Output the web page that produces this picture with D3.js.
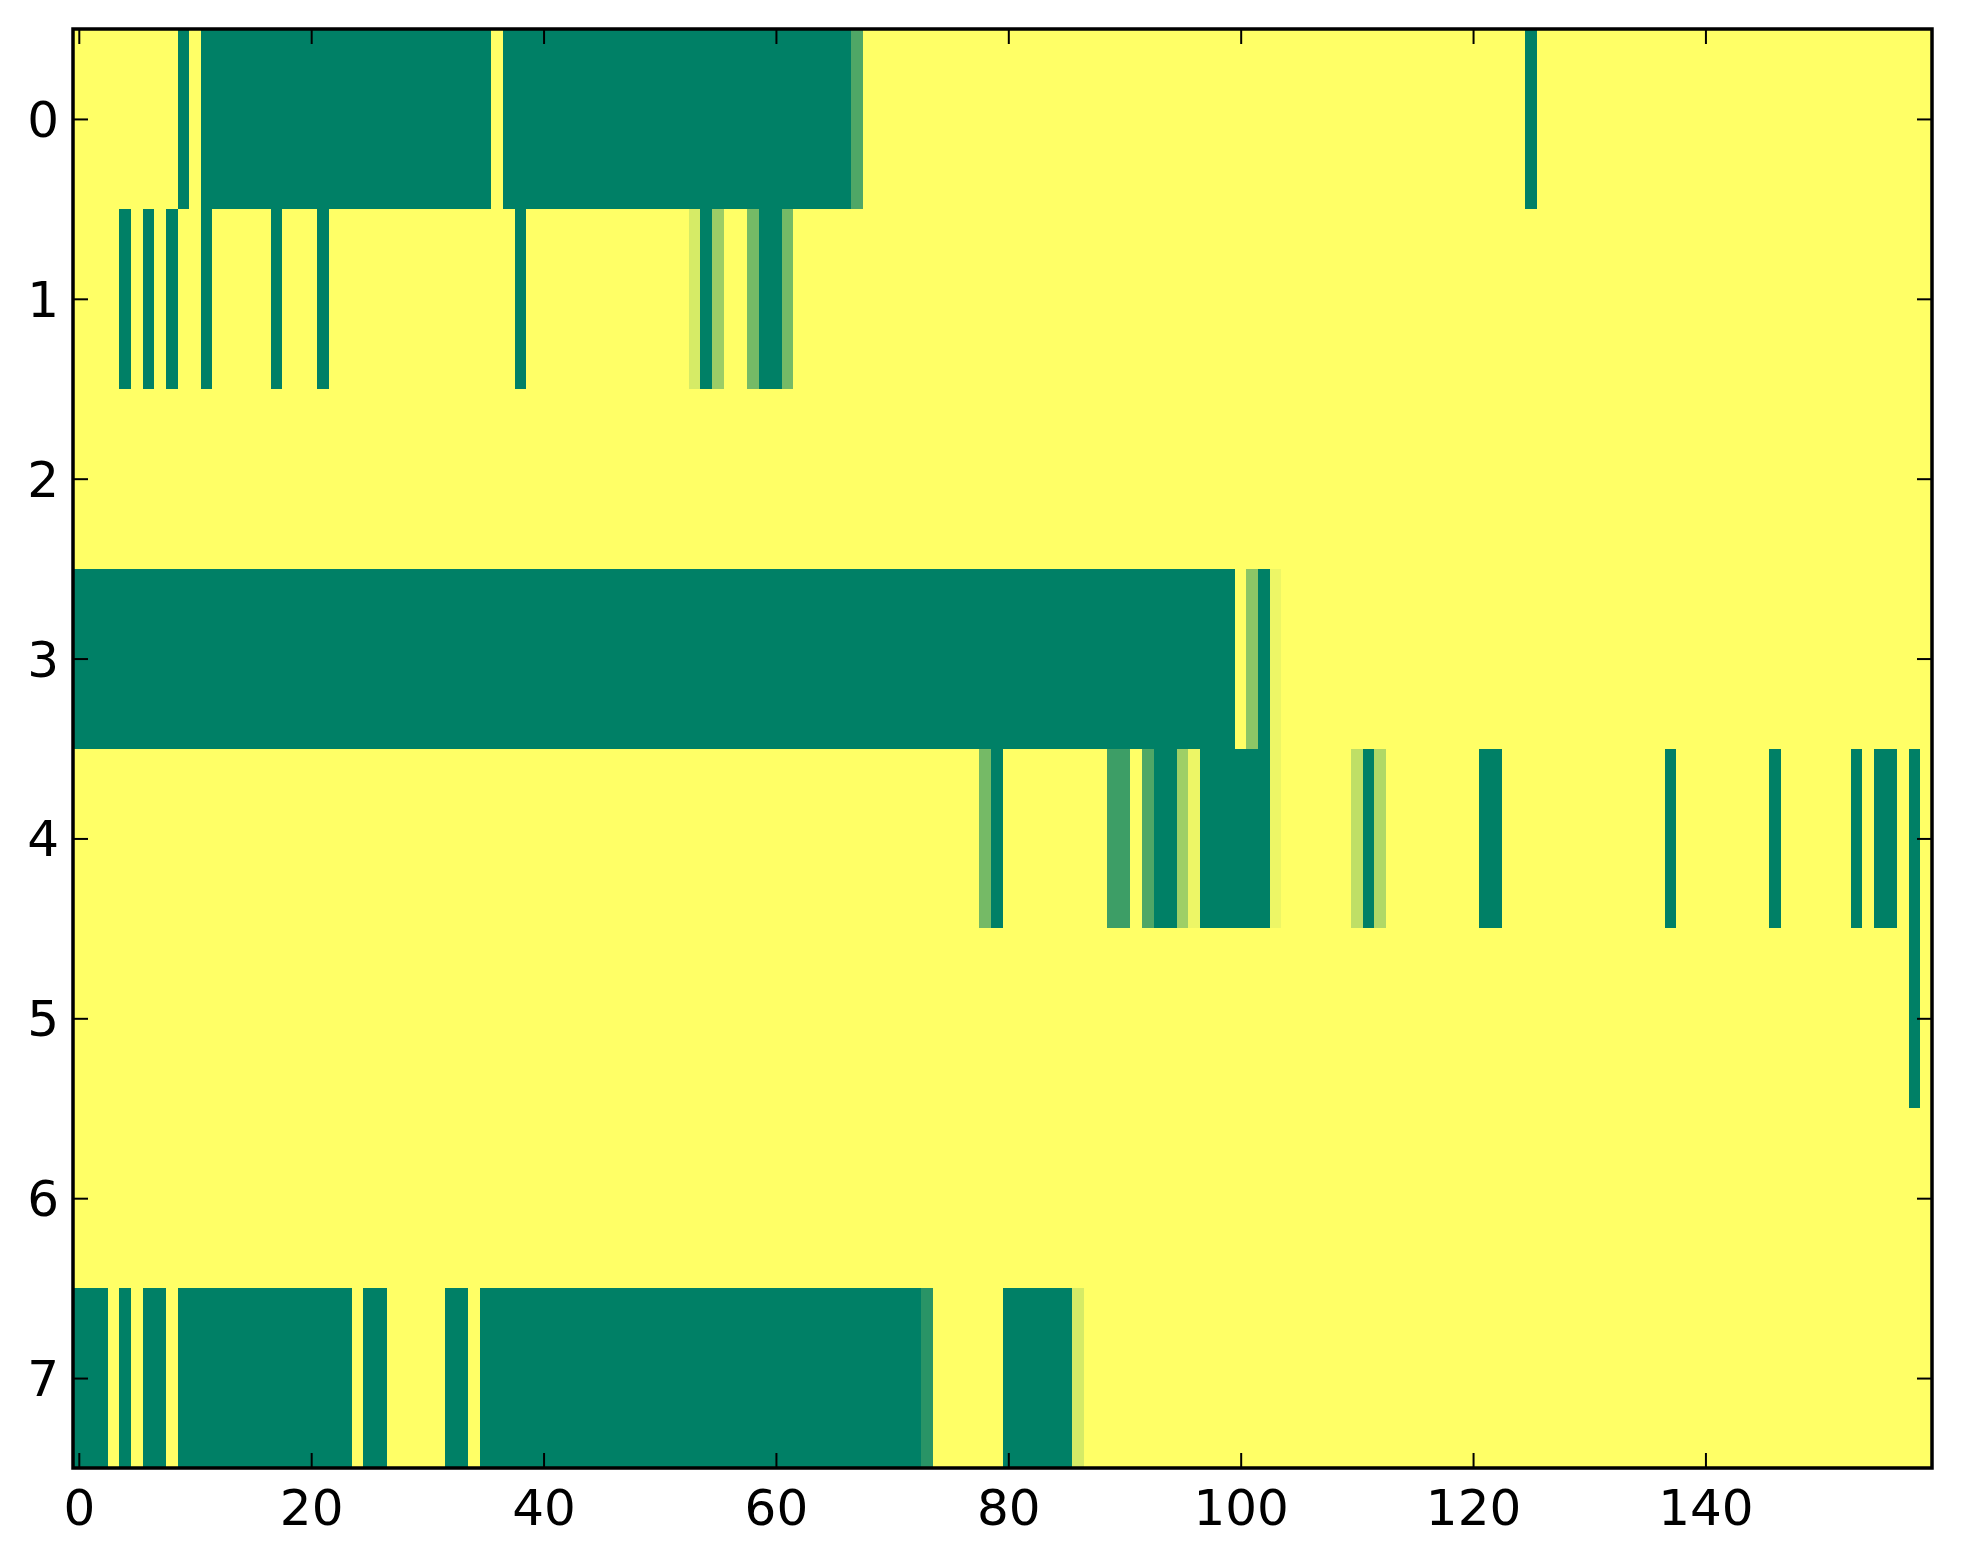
<!DOCTYPE html>
<html>
<head>
<meta charset="utf-8">
<script src="https://cdn.jsdelivr.net/npm/d3@7"></script>
<style>
  html, body { margin: 0; padding: 0; background: #ffffff; }
  svg { display: block; }
</style>
</head>
<body>
<svg id="chart" width="1963" height="1564"></svg>
<script>
// ---- data (0 = yellow, 1 = green) ----
const rowLabels = [0, 1, 2, 3, 4, 5, 6, 7];
const xTickValues = [0, 20, 40, 60, 80, 100, 120, 140];
const yTickValues = [0, 1, 2, 3, 4, 5, 6, 7];

const row0 = [
  0,0,0,0,0,0,0,0,0,1, 0,1,1,1,1,1,1,1,1,1, 1,1,1,1,1,1,1,1,1,1, 1,1,1,1,1,1,0,1,1,1,
  1,1,1,1,1,1,1,1,1,1, 1,1,1,1,1,1,1,1,1,1, 1,1,1,1,1,1,1,0.69,0,0, 0,0,0,0,0,0,0,0,0,0,
  0,0,0,0,0,0,0,0,0,0, 0,0,0,0,0,0,0,0,0,0, 0,0,0,0,0,0,0,0,0,0, 0,0,0,0,0,0,0,0,0,0,
  0,0,0,0,0,1,0,0,0,0, 0,0,0,0,0,0,0,0,0,0, 0,0,0,0,0,0,0,0,0,0, 0,0,0,0,0,0,0,0,0,0
];
const row1 = [
  0,0,0,0,1,0,1,0,1,0, 0,1,0,0,0,0,0,1,0,0, 0,1,0,0,0,0,0,0,0,0, 0,0,0,0,0,0,0,0,1,0,
  0,0,0,0,0,0,0,0,0,0, 0,0,0,0.16,1,0.39,0,0,0.54,1, 1,0.54,0,0,0,0,0,0,0,0, 0,0,0,0,0,0,0,0,0,0,
  0,0,0,0,0,0,0,0,0,0, 0,0,0,0,0,0,0,0,0,0, 0,0,0,0,0,0,0,0,0,0, 0,0,0,0,0,0,0,0,0,0,
  0,0,0,0,0,0,0,0,0,0, 0,0,0,0,0,0,0,0,0,0, 0,0,0,0,0,0,0,0,0,0, 0,0,0,0,0,0,0,0,0,0
];
const row2 = [
  0,0,0,0,0,0,0,0,0,0, 0,0,0,0,0,0,0,0,0,0, 0,0,0,0,0,0,0,0,0,0, 0,0,0,0,0,0,0,0,0,0,
  0,0,0,0,0,0,0,0,0,0, 0,0,0,0,0,0,0,0,0,0, 0,0,0,0,0,0,0,0,0,0, 0,0,0,0,0,0,0,0,0,0,
  0,0,0,0,0,0,0,0,0,0, 0,0,0,0,0,0,0,0,0,0, 0,0,0,0,0,0,0,0,0,0, 0,0,0,0,0,0,0,0,0,0,
  0,0,0,0,0,0,0,0,0,0, 0,0,0,0,0,0,0,0,0,0, 0,0,0,0,0,0,0,0,0,0, 0,0,0,0,0,0,0,0,0,0
];
const row3 = [
  1,1,1,1,1,1,1,1,1,1, 1,1,1,1,1,1,1,1,1,1, 1,1,1,1,1,1,1,1,1,1, 1,1,1,1,1,1,1,1,1,1,
  1,1,1,1,1,1,1,1,1,1, 1,1,1,1,1,1,1,1,1,1, 1,1,1,1,1,1,1,1,1,1, 1,1,1,1,1,1,1,1,1,1,
  1,1,1,1,1,1,1,1,1,1, 1,1,1,1,1,1,1,1,1,1, 0,0.45,1,0.07,0,0,0,0,0,0, 0,0,0,0,0,0,0,0,0,0,
  0,0,0,0,0,0,0,0,0,0, 0,0,0,0,0,0,0,0,0,0, 0,0,0,0,0,0,0,0,0,0, 0,0,0,0,0,0,0,0,0,0
];
const row4 = [
  0,0,0,0,0,0,0,0,0,0, 0,0,0,0,0,0,0,0,0,0, 0,0,0,0,0,0,0,0,0,0, 0,0,0,0,0,0,0,0,0,0,
  0,0,0,0,0,0,0,0,0,0, 0,0,0,0,0,0,0,0,0,0, 0,0,0,0,0,0,0,0,0,0, 0,0,0,0,0,0,0,0,0.54,1,
  0,0,0,0,0,0,0,0,0,0.76, 0.76,0,0.69,1,1,0.38,0.07,1,1,1, 1,1,1,0.07,0,0,0,0,0,0, 0.25,1,0.31,0,0,0,0,0,0,0,
  0,1,1,0,0,0,0,0,0,0, 0,0,0,0,0,0,0,1,0,0, 0,0,0,0,0,0,1,0,0,0, 0,0,0,1,0,1,1,0,1,0
];
const row5 = [
  0,0,0,0,0,0,0,0,0,0, 0,0,0,0,0,0,0,0,0,0, 0,0,0,0,0,0,0,0,0,0, 0,0,0,0,0,0,0,0,0,0,
  0,0,0,0,0,0,0,0,0,0, 0,0,0,0,0,0,0,0,0,0, 0,0,0,0,0,0,0,0,0,0, 0,0,0,0,0,0,0,0,0,0,
  0,0,0,0,0,0,0,0,0,0, 0,0,0,0,0,0,0,0,0,0, 0,0,0,0,0,0,0,0,0,0, 0,0,0,0,0,0,0,0,0,0,
  0,0,0,0,0,0,0,0,0,0, 0,0,0,0,0,0,0,0,0,0, 0,0,0,0,0,0,0,0,0,0, 0,0,0,0,0,0,0,0,1,0
];
const row6 = [
  0,0,0,0,0,0,0,0,0,0, 0,0,0,0,0,0,0,0,0,0, 0,0,0,0,0,0,0,0,0,0, 0,0,0,0,0,0,0,0,0,0,
  0,0,0,0,0,0,0,0,0,0, 0,0,0,0,0,0,0,0,0,0, 0,0,0,0,0,0,0,0,0,0, 0,0,0,0,0,0,0,0,0,0,
  0,0,0,0,0,0,0,0,0,0, 0,0,0,0,0,0,0,0,0,0, 0,0,0,0,0,0,0,0,0,0, 0,0,0,0,0,0,0,0,0,0,
  0,0,0,0,0,0,0,0,0,0, 0,0,0,0,0,0,0,0,0,0, 0,0,0,0,0,0,0,0,0,0, 0,0,0,0,0,0,0,0,0,0
];
const row7 = [
  1,1,1,0,1,0,1,1,0,1, 1,1,1,1,1,1,1,1,1,1, 1,1,1,1,0,1,1,0,0,0, 0,0,1,1,0,1,1,1,1,1,
  1,1,1,1,1,1,1,1,1,1, 1,1,1,1,1,1,1,1,1,1, 1,1,1,1,1,1,1,1,1,1, 1,1,1,0.84,0,0,0,0,0,0,
  1,1,1,1,1,1,0.16,0,0,0, 0,0,0,0,0,0,0,0,0,0, 0,0,0,0,0,0,0,0,0,0, 0,0,0,0,0,0,0,0,0,0,
  0,0,0,0,0,0,0,0,0,0, 0,0,0,0,0,0,0,0,0,0, 0,0,0,0,0,0,0,0,0,0, 0,0,0,0,0,0,0,0,0,0
];
const rows = [row0, row1, row2, row3, row4, row5, row6, row7];

// ---- layout ----
const W = 1963, H = 1564;
const mLeft = 73, mRight = 1932, mTop = 29, mBottom = 1468;
const nCols = row0.length;

const svg = d3.select("#chart");
svg.append("rect").attr("width", W).attr("height", H).attr("fill", "#ffffff");

const x = d3.scaleLinear().domain([-0.5, nCols - 0.5]).range([mLeft, mRight]);
const y = d3.scaleLinear().domain([-0.5, rowLabels.length - 0.5]).range([mTop, mBottom]);

// summer_r colormap: 0 -> yellow, 1 -> green
const color = d3.scaleSequential(d3.interpolateRgb("#ffff66", "#008066")).domain([0, 1]);

const cells = [];
rows.forEach((r, ri) => r.forEach((v, ci) => cells.push({ row: rowLabels[ri], col: ci, v })));

svg.append("g")
  .attr("shape-rendering", "crispEdges")
  .selectAll("rect")
  .data(cells)
  .join("rect")
  .attr("x", d => x(d.col - 0.5))
  .attr("y", d => y(d.row - 0.5))
  .attr("width", d => x(d.col + 0.5) - x(d.col - 0.5) + 0.6)
  .attr("height", d => y(d.row + 0.5) - y(d.row - 0.5) + 0.6)
  .attr("fill", d => color(d.v));

const fontFamily = "'DejaVu Sans', 'Liberation Sans', sans-serif";
const tickLen = 15;

function styleAxis(g) {
  g.select(".domain").remove();
  g.selectAll(".tick line").attr("stroke", "#000").attr("stroke-width", 2);
  g.selectAll(".tick text")
    .attr("fill", "#000")
    .style("font-family", fontFamily)
    .style("font-size", "50px");
}

// bottom axis (labels)
const gx = svg.append("g")
  .attr("transform", `translate(0,${mBottom})`)
  .call(d3.axisBottom(x).tickValues(xTickValues).tickSizeInner(-tickLen).tickSizeOuter(0).tickFormat(d3.format("d")));
styleAxis(gx);
gx.selectAll(".tick text").attr("y", 57).attr("dy", null);

// top axis (ticks only)
const gxt = svg.append("g")
  .attr("transform", `translate(0,${mTop})`)
  .call(d3.axisTop(x).tickValues(xTickValues).tickSizeInner(-tickLen).tickSizeOuter(0).tickFormat(""));
styleAxis(gxt);

// left axis (labels)
const gy = svg.append("g")
  .attr("transform", `translate(${mLeft},0)`)
  .call(d3.axisLeft(y).tickValues(yTickValues).tickSizeInner(-tickLen).tickSizeOuter(0).tickFormat(d3.format("d")));
styleAxis(gy);
gy.selectAll(".tick text").attr("x", -14).attr("dy", "0.35em");

// right axis (ticks only)
const gyr = svg.append("g")
  .attr("transform", `translate(${mRight},0)`)
  .call(d3.axisRight(y).tickValues(yTickValues).tickSizeInner(-tickLen).tickSizeOuter(0).tickFormat(""));
styleAxis(gyr);

// frame
svg.append("rect")
  .attr("x", mLeft).attr("y", mTop)
  .attr("width", mRight - mLeft).attr("height", mBottom - mTop)
  .attr("fill", "none").attr("stroke", "#000").attr("stroke-width", 3.5);
</script>
</body>
</html>
